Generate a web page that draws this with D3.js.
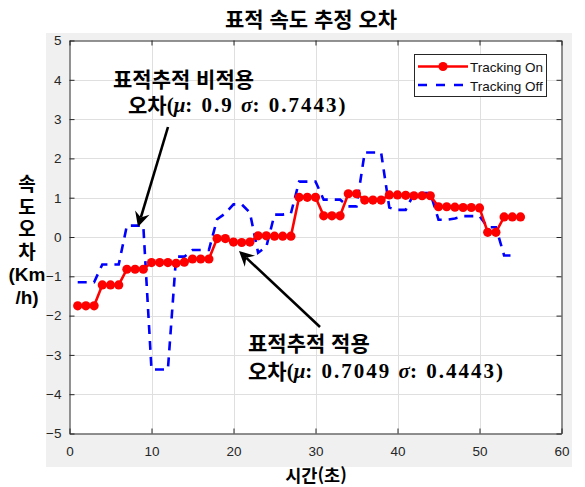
<!DOCTYPE html>
<html lang="ko">
<head>
<meta charset="utf-8">
<script src="https://cdn.jsdelivr.net/npm/d3@7"></script>
<style>
  body { margin: 0; background: #ffffff; }
  svg { display: block; }
</style>
</head>
<body>
<script>
// Speed-estimation error over time, with and without target tracking
const secondsOn = [1,2,3,4,5,6,7,8,9,10,11,12,13,14,15,16,17,18,19,20,21,22,23,24,25,26,27,28,29,30,
  31,32,33,34,35,36,37,38,39,40,41,42,43,44,45,46,47,48,49,50,51,52,53,54,55];
const errorOn = [-1.75,-1.75,-1.75,-1.22,-1.22,-1.22,-0.82,-0.82,-0.82,-0.65,-0.65,-0.65,-0.67,-0.64,-0.56,
  -0.56,-0.56,-0.04,-0.04,-0.13,-0.14,-0.13,0.03,0.03,0.02,0.02,0.02,1.01,1.01,1.01,
  0.54,0.54,0.54,1.1,1.1,0.94,0.94,0.94,1.07,1.07,1.06,1.05,1.05,1.05,0.77,0.77,0.76,0.75,0.75,0.74,
  0.12,0.12,0.51,0.51,0.51];

const secondsOff = [1,2,3,4,5,6,7,8,9,10,11,12,13,14,15,16,17,18,19,20,21,22,23,24,25,26,27,28,29,30,
  31,32,33,34,35,36,37,38,39,40,41,42,43,44,45,46,47,48,49,50,51,52,53,54];
const errorOff = [-1.15,-1.15,-1.15,-0.7,-0.7,-0.7,0.29,0.29,0.29,-3.37,-3.37,-3.37,-0.5,-0.5,-0.33,
  -0.33,-0.33,0.45,0.6,0.83,0.83,0.62,-0.4,-0.25,0.57,0.57,0.6,1.41,1.41,1.41,
  0.95,0.95,0.95,0.78,0.78,2.15,2.15,2.15,0.75,0.69,0.69,1.1,1.12,1.12,0.44,0.44,0.47,0.53,0.53,0.53,
  0.25,0.25,-0.47,-0.47];

const xTicks = [0,10,20,30,40,50,60];
const yTicks = [-5,-4,-3,-2,-1,0,1,2,3,4,5];
const seriesNames = ["Tracking On","Tracking Off"];

const W = 585, H = 487;
const KR = "'Noto Sans CJK KR','Noto Sans',sans-serif";
// Latin face first keeps the line box compact; Hangul glyphs come from the CJK face
const KR_COMPACT = "'Liberation Sans','Noto Sans CJK KR',sans-serif";
const SANS = "'Liberation Sans',Arial,sans-serif";
const SERIF = "'Liberation Serif','Times New Roman',serif";

const svg = d3.select("body").append("svg").attr("width", W).attr("height", H);

// figure background panel
svg.append("rect").attr("x", 46).attr("y", 33).attr("width", 526).attr("height", 434).attr("fill", "#f0f0f0");

const x = d3.scaleLinear().domain([0, 60]).range([69.5, 561.5]);
const y = d3.scaleLinear().domain([-5, 5]).range([433.5, 40.5]);

// plotting area
svg.append("rect").attr("x", x(0)).attr("y", y(5))
  .attr("width", x(60) - x(0)).attr("height", y(-5) - y(5)).attr("fill", "#ffffff");

// grid
const grid = svg.append("g").attr("stroke", "#dfdfdf").attr("stroke-width", 1);
grid.selectAll(".gx").data(xTicks.slice(1, -1)).join("line")
  .attr("x1", d => Math.round(x(d)) + 0.5).attr("x2", d => Math.round(x(d)) + 0.5)
  .attr("y1", y(5)).attr("y2", y(-5));
grid.selectAll(".gy").data(yTicks.slice(1, -1)).join("line")
  .attr("y1", d => Math.round(y(d)) + 0.5).attr("y2", d => Math.round(y(d)) + 0.5)
  .attr("x1", x(0)).attr("x2", x(60));

// axes (ticks point inwards, box closed with mirrored ticks)
const axisColor = "#262626";
const axBottom = svg.append("g").attr("transform", `translate(0,${y(-5)})`)
  .call(d3.axisBottom(x).tickValues(xTicks).tickSize(-5).tickPadding(13).tickSizeOuter(0));
const axTop = svg.append("g").attr("transform", `translate(0,${y(5)})`)
  .call(d3.axisTop(x).tickValues(xTicks).tickSize(-5).tickFormat("").tickSizeOuter(0));
const axLeft = svg.append("g").attr("transform", `translate(${x(0)},0)`)
  .call(d3.axisLeft(y).tickValues(yTicks).tickSize(-5).tickPadding(8).tickSizeOuter(0));
const axRight = svg.append("g").attr("transform", `translate(${x(60)},0)`)
  .call(d3.axisRight(y).tickValues(yTicks).tickSize(-5).tickFormat("").tickSizeOuter(0));
[axBottom, axTop, axLeft, axRight].forEach(g => {
  g.selectAll("path,line").attr("stroke", axisColor).attr("stroke-width", 1);
  g.selectAll("text").attr("fill", "#262626").style("font-family", SANS).style("font-size", "13.5px");
});

// Tracking Off: dashed blue
const line = (xs, ys) => d3.line().x((d, i) => x(xs[i])).y(d => y(d))(ys);
svg.append("path").attr("d", line(secondsOff, errorOff))
  .attr("fill", "none").attr("stroke", "#0000ff").attr("stroke-width", 2.6)
  .attr("stroke-dasharray", "9,7");

// Tracking On: red with markers
svg.append("path").attr("d", line(secondsOn, errorOn))
  .attr("fill", "none").attr("stroke", "#ff0000").attr("stroke-width", 2.6);
svg.append("g").selectAll("circle").data(errorOn).join("circle")
  .attr("cx", (d, i) => x(secondsOn[i])).attr("cy", d => y(d)).attr("r", 4.6).attr("fill", "#ff0000");

// legend
const lg = svg.append("g");
lg.append("rect").attr("x", 414.5).attr("y", 54.5).attr("width", 132).attr("height", 42)
  .attr("fill", "#ffffff").attr("stroke", axisColor).attr("stroke-width", 1);
lg.append("line").attr("x1", 418).attr("x2", 468).attr("y1", 66.5).attr("y2", 66.5)
  .attr("stroke", "#ff0000").attr("stroke-width", 2.6);
lg.append("circle").attr("cx", 443).attr("cy", 66.5).attr("r", 4.6).attr("fill", "#ff0000");
lg.append("line").attr("x1", 418).attr("x2", 468).attr("y1", 85).attr("y2", 85)
  .attr("stroke", "#0000ff").attr("stroke-width", 2.6).attr("stroke-dasharray", "9,9");
lg.selectAll("text").data(seriesNames).join("text")
  .attr("x", 470).attr("y", (d, i) => i === 0 ? 67 : 86).attr("dominant-baseline", "central")
  .style("font-family", SANS).style("font-size", "13.5px").attr("fill", "#111").text(d => d);

// title and axis labels
svg.append("text").attr("x", 311).attr("y", 18).attr("text-anchor", "middle").attr("dominant-baseline", "central")
  .style("font-family", KR).style("font-weight", 700).style("font-size", "21px").text("표적 속도 추정 오차");
svg.append("text").attr("x", 316).attr("y", 474).attr("text-anchor", "middle").attr("dominant-baseline", "central")
  .style("font-family", KR).style("font-weight", 700).style("font-size", "17.5px").text("시간(초)");

// vertical y-axis label, stacked one short line under another
const yLabelLines = ["속", "도", "오", "차", "(Km", "/h)"];
const yLab = svg.append("text").attr("text-anchor", "middle").attr("dominant-baseline", "central")
  .style("font-family", KR_COMPACT).style("font-weight", 700).style("font-size", "19px");
yLab.selectAll("tspan").data(yLabelLines).join("tspan")
  .attr("x", 27).attr("y", (d, i) => 184 + i * 22.5).text(d => d);

// annotation arrows
function arrow(x1, y1, x2, y2) {
  const a = Math.atan2(y2 - y1, x2 - x1);
  const g = svg.append("g");
  const L = 15, Wd = 7.5, notch = 10;
  g.append("line").attr("x1", x1).attr("y1", y1)
    .attr("x2", x2 - notch * Math.cos(a)).attr("y2", y2 - notch * Math.sin(a))
    .attr("stroke", "#000").attr("stroke-width", 2.6);
  const pts = [[0, 0], [-L, -Wd], [-notch, 0], [-L, Wd]]
    .map(([u, v]) => [x2 + u * Math.cos(a) - v * Math.sin(a), y2 + u * Math.sin(a) + v * Math.cos(a)]);
  g.append("polygon").attr("points", pts.map(p => p.join(",")).join(" ")).attr("fill", "#000");
}
arrow(168, 127, 138, 227);
arrow(320, 327, 239, 251);

// annotation texts: Korean caption plus mean / std in math style
function note(xl, y1, line1, y2, mu, sigma) {
  svg.append("text").attr("x", xl.l1).attr("y", y1).attr("dominant-baseline", "central")
    .style("font-family", KR_COMPACT).style("font-weight", 700).style("font-size", "21px").text(line1);
  const t = svg.append("text").attr("x", xl.l2).attr("y", y2).attr("dominant-baseline", "central");
  t.append("tspan").style("font-family", KR_COMPACT).style("font-weight", 700).style("font-size", "21px").text("오차");
  const m = () => t.append("tspan").style("font-family", SERIF).style("font-weight", 700).style("font-size", "21px");
  m().text("(");
  m().style("font-style", "italic").text("μ");
  m().attr("letter-spacing", "2").text(": " + mu + " ");
  m().style("font-style", "italic").text("σ");
  m().attr("letter-spacing", "2").text(": " + sigma);
  m().text(")");
}
note({ l1: 113, l2: 128 }, 79, "표적추적 비적용", 105, "0.9", "0.7443");
note({ l1: 248, l2: 248 }, 343, "표적추적 적용", 371, "0.7049", "0.4443");
</script>
</body>
</html>
